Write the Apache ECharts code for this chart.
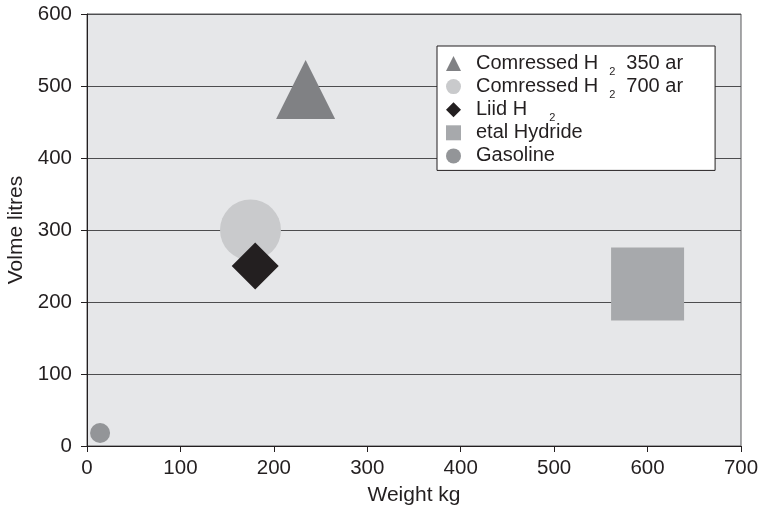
<!DOCTYPE html>
<html>
<head>
<meta charset="utf-8">
<title>Storage weight and volume</title>
<script src="https://cdn.jsdelivr.net/npm/echarts@6/dist/echarts.min.js"></script>
<style>
  html, body { margin: 0; padding: 0; background: #ffffff; }
  #chart { width: 760px; height: 509px; }
</style>
</head>
<body>
<div id="chart"></div>
<script>
// Storage options: weight (kg) against volume (litres)
const seriesNames = ['Comressed H2 350 ar', 'Comressed H2 700 ar', 'Liid H2', 'etal Hydride', 'Gasoline'];
const weightKg = [234, 175, 180, 600, 14];
const volumeLitres = [495, 300, 250, 225, 18];
const symbols = ['triangle', 'circle', 'diamond', 'rect', 'circle'];
const symbolSizes = [59, 61, 47, 73, 20];
const colors = ['#808184', '#c9cacc', '#231f20', '#a7a9ac', '#939598'];
// Legend text; {s|..} is a lowered subscript, {g|..} an invisible one that keeps rows even
const legendLabels = [
  'Comressed H{s|2}350 ar',
  'Comressed H{s|2}700 ar',
  'Liid H{s3|2}',
  'etal Hydride{g|2}',
  'Gasoline{g|2}'
];
const xTicks = [0, 100, 200, 300, 400, 500, 600, 700];
const yTicks = [0, 100, 200, 300, 400, 500, 600];

const FONT = '"Liberation Sans", Arial, Helvetica, sans-serif';
const INK = '#231f20';

const chart = echarts.init(document.getElementById('chart'), null, { renderer: 'canvas' });

const series = seriesNames.map((name, i) => ({
  name: name,
  type: 'scatter',
  symbol: symbols[i],
  symbolSize: symbolSizes[i],
  itemStyle: { color: colors[i], opacity: 1 },
  emphasis: { disabled: true },
  data: [[weightKg[i], volumeLitres[i]]],
  z: 3 + i
}));

const subStyle = (padLeft, padRight, color) => ({
  fontSize: 11, lineHeight: 11, fontFamily: FONT, color: color,
  padding: [8, padRight, -8, padLeft]
});

chart.setOption({
  animation: false,
  backgroundColor: '#ffffff',
  textStyle: { fontFamily: FONT, color: INK },
  grid: {
    left: 87, top: 14, width: 654, height: 432,
    outerBoundsMode: 'none',
    containLabel: false,
    show: true,
    backgroundColor: '#e6e7e9',
    borderColor: '#58595b',
    borderWidth: 1
  },
  legend: {
    orient: 'vertical',
    left: 437,
    top: 46,
    padding: [6, 32, 1, 9],
    itemWidth: 15,
    itemHeight: 15,
    itemGap: -1.9,
    backgroundColor: '#ffffff',
    borderColor: INK,
    borderWidth: 1,
    borderRadius: 0,
    selectedMode: false,
    data: seriesNames,
    formatter: (name) => legendLabels[seriesNames.indexOf(name)],
    textStyle: {
      fontFamily: FONT,
      fontSize: 20,
      lineHeight: 23,
      color: INK,
      padding: [0, 0, 0, 10],
      rich: {
        s: subStyle(11, 11, INK),
        s3: subStyle(22, 0, INK),
        g: subStyle(0, 0, 'rgba(0,0,0,0)')
      }
    }
  },
  xAxis: {
    type: 'value',
    min: xTicks[0],
    max: xTicks[xTicks.length - 1],
    interval: 100,
    name: 'Weight kg',
    nameLocation: 'middle',
    nameGap: 39,
    nameTextStyle: { fontFamily: FONT, fontSize: 21, color: INK },
    axisLine: { show: true, onZero: false, lineStyle: { color: INK, width: 1 } },
    axisTick: { show: true, inside: false, length: 6, lineStyle: { color: INK } },
    axisLabel: { fontFamily: FONT, fontSize: 20.5, color: INK, margin: 12 },
    splitLine: { show: false }
  },
  yAxis: {
    type: 'value',
    min: yTicks[0],
    max: yTicks[yTicks.length - 1],
    interval: 100,
    name: 'Volme litres',
    nameLocation: 'middle',
    nameGap: 59,
    nameTextStyle: { fontFamily: FONT, fontSize: 21, color: INK },
    axisLine: { show: true, onZero: false, lineStyle: { color: INK, width: 1 } },
    axisTick: { show: true, inside: false, length: 6, lineStyle: { color: INK } },
    axisLabel: { fontFamily: FONT, fontSize: 20.5, color: INK, margin: 15 },
    splitLine: { show: true, lineStyle: { color: '#4d4d4f', width: 1 } }
  },
  series: series
});
</script>
</body>
</html>
